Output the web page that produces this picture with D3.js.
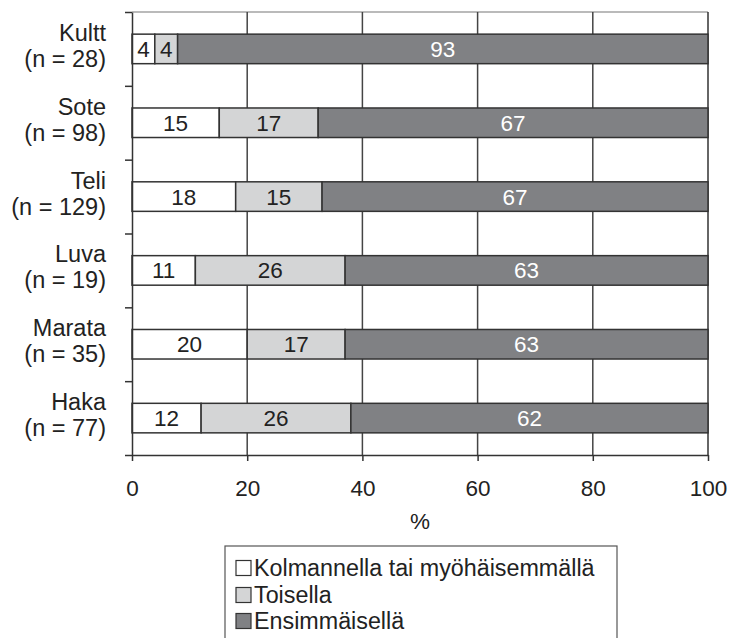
<!DOCTYPE html>
<html>
<head>
<meta charset="utf-8">
<script src="https://cdn.jsdelivr.net/npm/d3@7"></script>
<style>
  html, body { margin: 0; padding: 0; background: #fff; }
  svg { display: block; font-family: Arial, "Liberation Sans", sans-serif; }
</style>
</head>
<body>
<svg id="chart" width="729" height="638"></svg>
<script>
// ---- data ----
const categories = ["Kultt", "Sote", "Teli", "Luva", "Marata", "Haka"];
const sampleSizes = ["(n = 28)", "(n = 98)", "(n = 129)", "(n = 19)", "(n = 35)", "(n = 77)"];
const seriesNames = ["Kolmannella tai myöhäisemmällä", "Toisella", "Ensimmäisellä"];
const kolmannella = [4, 15, 18, 11, 20, 12];
const toisella = [4, 17, 15, 26, 17, 26];
const ensimmaisella = [93, 67, 67, 63, 63, 62];
const xTicks = [0, 20, 40, 60, 80, 100];
const xLabel = "%";

const colors = ["#ffffff", "#d4d5d6", "#808184"];
const textColors = ["#222", "#222", "#ffffff"];

const rows = categories.map((c, i) => ({
  cat: c,
  [seriesNames[0]]: kolmannella[i],
  [seriesNames[1]]: toisella[i],
  [seriesNames[2]]: ensimmaisella[i]
}));

const svg = d3.select("#chart");
const pLeft = 132, pRight = 708, pTop = 12, pBottom = 455;

const x = d3.scaleLinear().domain([0, 1]).range([pLeft, pRight]);
const y = d3.scaleBand().domain(categories).range([pTop, pBottom]).paddingInner(0.6).paddingOuter(0.3);
const yEdge = d3.scaleLinear().domain([0, categories.length]).range([pTop, pBottom]);

const stack = d3.stack().keys(seriesNames).offset(d3.stackOffsetExpand);
const layers = stack(rows);

// top border
svg.append("line").attr("x1", pLeft).attr("x2", pRight).attr("y1", pTop).attr("y2", pTop)
  .attr("stroke", "#777").attr("stroke-width", 1.2);
// right border
svg.append("line").attr("x1", pRight).attr("x2", pRight).attr("y1", pTop).attr("y2", pBottom)
  .attr("stroke", "#333").attr("stroke-width", 1.5);

// grid lines
svg.append("g").selectAll("line").data(xTicks.slice(1, -1)).join("line")
  .attr("x1", d => x(d / 100)).attr("x2", d => x(d / 100))
  .attr("y1", pTop).attr("y2", pBottom)
  .attr("stroke", "#444").attr("stroke-width", 1.5);

// bars
layers.forEach((layer, li) => {
  const g = svg.append("g");
  g.selectAll("rect").data(layer).join("rect")
    .attr("x", d => x(d[0]))
    .attr("y", d => y(d.data.cat))
    .attr("width", d => x(d[1]) - x(d[0]))
    .attr("height", y.bandwidth())
    .attr("fill", colors[li])
    .attr("stroke", "#333")
    .attr("stroke-width", 1.5);
  g.selectAll("text").data(layer).join("text")
    .attr("x", d => (x(d[0]) + x(d[1])) / 2)
    .attr("y", d => y(d.data.cat) + y.bandwidth() / 2 + 8)
    .attr("text-anchor", "middle")
    .attr("font-size", 22.5)
    .attr("fill", textColors[li])
    .text(d => d.data[layer.key]);
});

// y axis
const yAxis = svg.append("g").attr("transform", `translate(${pLeft},0)`)
  .call(d3.axisLeft(yEdge).tickValues(d3.range(categories.length + 1))
    .tickSize(7).tickSizeOuter(0).tickFormat(""));
yAxis.select(".domain").attr("stroke", "#333").attr("stroke-width", 1.5);
yAxis.selectAll(".tick line").attr("stroke", "#333").attr("stroke-width", 1.5);

// category labels
const catG = svg.append("g");
categories.forEach((c, i) => {
  const cy = y(c) + y.bandwidth() / 2;
  catG.append("text").attr("x", 106).attr("y", cy - 8).attr("text-anchor", "end")
    .attr("font-size", 23.5).attr("fill", "#222").text(c);
  catG.append("text").attr("x", 106).attr("y", cy + 18).attr("text-anchor", "end")
    .attr("font-size", 23.5).attr("fill", "#222").text(sampleSizes[i]);
});

// x axis
const xAxis = svg.append("g").attr("transform", `translate(0,${pBottom})`)
  .call(d3.axisBottom(x).tickValues(xTicks.map(d => d / 100)).tickSize(6).tickSizeOuter(0)
    .tickPadding(19).tickFormat((d, i) => xTicks[i]));
xAxis.select(".domain").attr("stroke", "#333").attr("stroke-width", 1.5);
xAxis.selectAll(".tick line").attr("stroke", "#333").attr("stroke-width", 1.5);
xAxis.selectAll(".tick text").attr("font-size", 22.5).attr("fill", "#222")
  .attr("font-family", "Arial, 'Liberation Sans', sans-serif");

// x label
svg.append("text").attr("x", (pLeft + pRight) / 2).attr("y", 529).attr("text-anchor", "middle")
  .attr("font-size", 22.5).attr("fill", "#222").text(xLabel);

// legend
const legend = svg.append("g");
legend.append("rect").attr("x", 225).attr("y", 546).attr("width", 392).attr("height", 100)
  .attr("fill", "#fff").attr("stroke", "#555").attr("stroke-width", 1.2);
const legendY = [568, 595, 621];
seriesNames.forEach((s, i) => {
  legend.append("rect").attr("x", 236).attr("y", legendY[i] - 7.5).attr("width", 15).attr("height", 15)
    .attr("fill", colors[i]).attr("stroke", "#333").attr("stroke-width", 1.2);
  legend.append("text").attr("x", 254).attr("y", legendY[i] + 8).attr("font-size", 23.3)
    .attr("fill", "#222").text(s);
});
</script>
</body>
</html>
